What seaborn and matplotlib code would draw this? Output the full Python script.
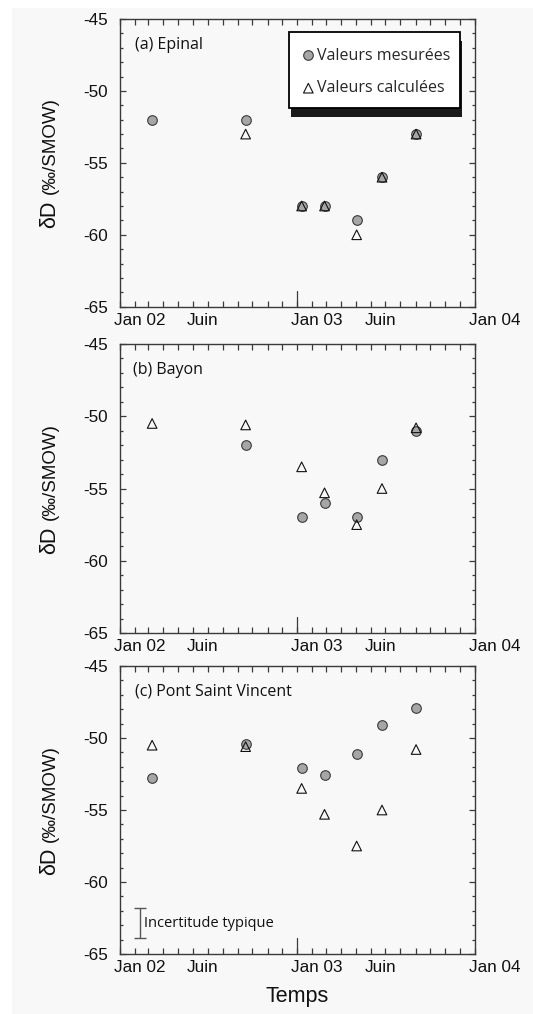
import numpy as np
import pandas as pd
import matplotlib
matplotlib.use("Agg")
import matplotlib.pyplot as plt
import matplotlib.dates as mdates
import matplotlib.transforms as mtransforms
import matplotlib.patheffects as pe
from matplotlib.patches import Rectangle
from matplotlib.ticker import MultipleLocator, FixedLocator
import seaborn as sns

# ---------------- data ----------------
dates = ["2002-03-09", "2002-09-17", "2003-01-10", "2003-02-26",
         "2003-05-03", "2003-06-24", "2003-09-02"]

epinal_mesure = [-52.0, -52.0, -58.0, -58.0, -59.0, -56.0, -53.0]
epinal_calcul = [np.nan, -53.0, -58.0, -58.0, -60.0, -56.0, -53.0]

bayon_mesure = [np.nan, -52.0, -57.0, -56.0, -57.0, -53.0, -51.0]
bayon_calcul = [-50.5, -50.6, -53.5, -55.3, -57.5, -55.0, -50.8]

psv_mesure = [-52.8, -50.4, -52.1, -52.6, -51.1, -49.1, -47.9]
psv_calcul = [-50.5, -50.6, -53.5, -55.3, -57.5, -55.0, -50.8]

panel_titles = ["(a) Epinal", "(b) Bayon", "(c) Pont Saint Vincent"]
legend_labels = ["Valeurs mesurées", "Valeurs calculées"]

tick_dates = ["2002-01-01", "2002-06-01", "2003-01-01", "2003-06-01", "2004-01-01"]
tick_labels = ["Jan 02", "Juin", "Jan 03", "Juin", "Jan 04"]
y_ticks = [-65, -60, -55, -50, -45]

incertitude_date = "2002-02-12"
incertitude_centre = -62.85
incertitude_demi = 1.05
incertitude_texte = "Incertitude typique"

# ---------------- style ----------------
sns.set_theme(style="ticks")
plt.rcParams["font.family"] = ["Liberation Sans", "DejaVu Sans"]

BG = "#f8f8f8"
SPINE = "#3a3a3a"
CIRCLE_FC = "#a6a6a6"
CIRCLE_EC = "#3a3a3a"

fig = plt.figure(figsize=(5.33, 10.14), dpi=100)
fig.patch.set_facecolor("white")
# light grey page background (left/top strip stays white)
fig.patches.append(Rectangle((12 / 533, 0), 1, 1 - 8 / 1014, transform=fig.transFigure,
                             facecolor=BG, edgecolor="none", zorder=-10))

d = pd.to_datetime(pd.Series(dates))
x0, x1 = pd.Timestamp("2002-01-01"), pd.Timestamp("2004-01-01")
jan03 = pd.Timestamp("2003-01-01")

left, width = 119.5 / 533, 355.5 / 533
boxes = [(306.7, 287.7), (633.0, 289.0), (954.0, 288.0)]  # bottom px, height px
series = [(epinal_mesure, epinal_calcul), (bayon_mesure, bayon_calcul),
          (psv_mesure, psv_calcul)]
title_x = [0.045, 0.037, 0.044]

axes = []
for i, ((bot, h), (mes, cal)) in enumerate(zip(boxes, series)):
    ax = fig.add_axes([left, 1 - bot / 1014, width, h / 1014])
    ax.set_facecolor(BG)
    axes.append(ax)

    sns.scatterplot(x=d, y=mes, ax=ax, marker="o", s=48, color=CIRCLE_FC,
                    edgecolor=CIRCLE_EC, linewidth=0.8, zorder=3,
                    label=legend_labels[0])
    sns.scatterplot(x=d, y=cal, ax=ax, marker="^", s=48, color="#111111",
                    facecolor="none", edgecolor="#111111", linewidth=0.8,
                    zorder=4, label=legend_labels[1])
    if ax.get_legend() is not None:
        ax.get_legend().remove()

    ax.set_xlim(x0, x1)
    ax.set_ylim(-65, -45)
    ax.set_xlabel("")
    ax.set_ylabel("")

    # y ticks
    ax.set_yticks(y_ticks)
    ax.set_yticklabels([str(v) for v in y_ticks])
    ax.yaxis.set_minor_locator(MultipleLocator(1))
    ax.tick_params(axis="y", which="both", direction="in", left=True, right=True,
                   color=SPINE, width=0.9)
    ax.tick_params(axis="y", which="major", length=4.3, labelsize=12.3, pad=8.5,
                   labelcolor="#111111")
    ax.tick_params(axis="y", which="minor", length=2.5)

    # x ticks
    ax.xaxis.remove_overlapping_locs = False
    ax.xaxis.set_major_locator(FixedLocator(mdates.date2num(pd.to_datetime(tick_dates))))
    ax.xaxis.set_minor_locator(mdates.MonthLocator())
    ax.set_xticklabels(tick_labels)
    ax.tick_params(axis="x", which="major", length=0, labelsize=12.3, pad=4.5,
                   labelcolor="#111111")
    ax.tick_params(axis="x", which="minor", direction="in", top=True, bottom=True,
                   length=4.3, color=SPINE, width=0.9)
    offset = mtransforms.ScaledTranslation(-6 / 100, 0, fig.dpi_scale_trans)
    for lab in ax.get_xticklabels():
        lab.set_ha("left")
        lab.set_transform(lab.get_transform() + offset)

    # long tick at Jan 03
    ax.axvline(jan03, ymin=0, ymax=16 / h, color=SPINE, lw=0.9, zorder=2)

    for sp in ax.spines.values():
        sp.set_visible(True)
        sp.set_color(SPINE)
        sp.set_linewidth(1.0)

    # y label : δD (‰/SMOW)
    ax.text(-0.181, 0.275, "δD", transform=ax.transAxes, rotation=90,
            rotation_mode="anchor", ha="left", va="baseline", fontsize=15.5,
            color="#111111")
    ax.text(-0.181, 0.39, "(‰/SMOW)", transform=ax.transAxes, rotation=90,
            rotation_mode="anchor", ha="left", va="baseline", fontsize=13.5,
            color="#111111")

    ax.text(title_x[i], 0.91, panel_titles[i], transform=ax.transAxes,
            ha="left", va="center", fontsize=11.5, family="Open Sans",
            color="#111111")

# legend in panel (a)
ax = axes[0]
rect = Rectangle((0.477, 0.691), 0.481, 0.264, transform=ax.transAxes,
                 facecolor="white", edgecolor="black", lw=1.3, zorder=5)
rect.set_path_effects([pe.SimplePatchShadow(offset=(1.5, -6.5), shadow_rgbFace="k",
                                            alpha=1.0), pe.Normal()])
ax.add_patch(rect)
handles, labels = ax.get_legend_handles_labels()
leg = ax.legend(handles[:2], labels[:2], loc="upper left", bbox_to_anchor=(0.477, 0.955),
                frameon=False, prop={"family": "Open Sans", "size": 11.5},
                handlelength=0.45, handletextpad=0.32, borderpad=0.98,
                labelspacing=1.05, borderaxespad=0)
leg.set_zorder(6)

# typical uncertainty in panel (c)
ax = axes[2]
ax.errorbar([pd.Timestamp(incertitude_date)], [incertitude_centre],
            yerr=[incertitude_demi], fmt="none", ecolor="#555555",
            elinewidth=1.0, capsize=4, capthick=1.0, zorder=3)
ax.text(0.069, incertitude_centre, incertitude_texte,
        transform=mtransforms.blended_transform_factory(ax.transAxes, ax.transData),
        ha="left", va="center", fontsize=10.5, family="Open Sans", color="#111111")
ax.set_xlabel("Temps", fontsize=15.5, labelpad=8, color="#111111")

fig.savefig("out.png", dpi=100, facecolor=fig.get_facecolor())
